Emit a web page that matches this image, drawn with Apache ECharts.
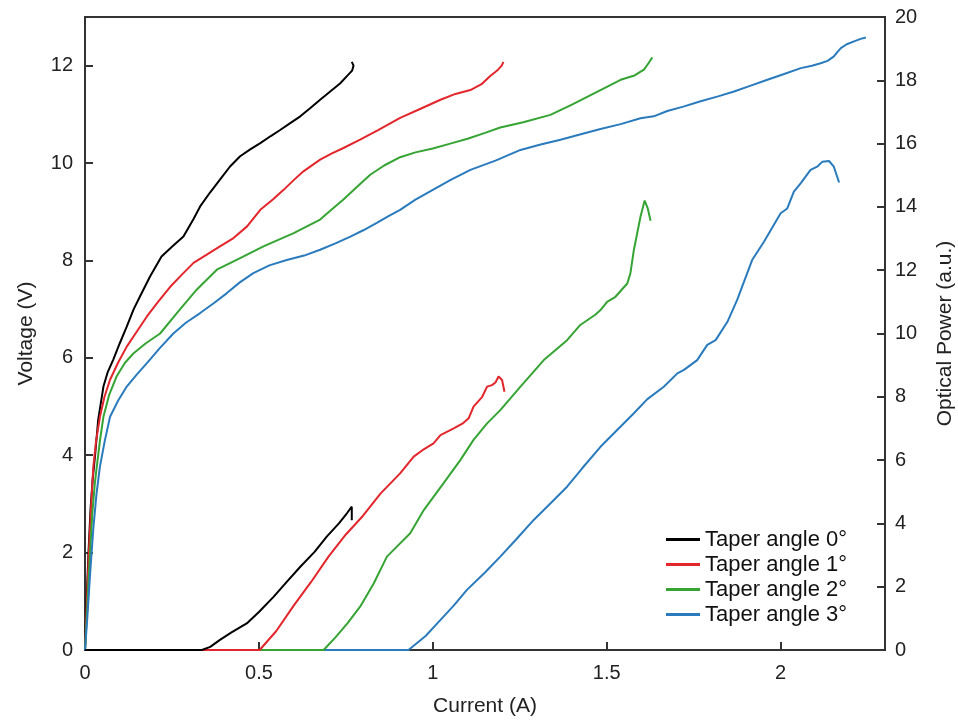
<!DOCTYPE html>
<html>
<head>
<meta charset="utf-8">
<script src="https://cdn.jsdelivr.net/npm/echarts@6/dist/echarts.min.js"></script>
<style>html,body{margin:0;padding:0;background:#fff}#c{width:958px;height:720px}</style>
</head>
<body>
<div id="c"></div>
<script>
var seriesNames = ['Taper angle 0°', 'Taper angle 1°', 'Taper angle 2°', 'Taper angle 3°'];
var colors = ['#000000', '#e2262b', '#35a433', '#2a7bbd'];
var xTicks = [0, 0.5, 1, 1.5, 2];

// Voltage (left axis)
var cur0V = [0,0.004,0.01,0.016,0.022,0.029,0.038,0.053,0.065,0.081,0.1,0.12,0.14,0.158,0.187,0.22,0.25,0.283,0.312,0.331,0.36,0.388,0.417,0.446,0.475,0.504,0.533,0.561,0.59,0.619,0.648,0.676,0.705,0.734,0.755,0.768,0.772,0.767];
var volt0 = [0,0.9,2.0,2.9,3.5,4.0,4.73,5.41,5.7,5.96,6.3,6.64,7.0,7.26,7.67,8.08,8.28,8.49,8.85,9.11,9.4,9.66,9.93,10.14,10.28,10.41,10.55,10.68,10.82,10.96,11.13,11.3,11.47,11.64,11.8,11.9,12.0,12.08];

var cur1V = [0,0.005,0.011,0.018,0.024,0.032,0.043,0.056,0.072,0.095,0.12,0.15,0.178,0.21,0.245,0.28,0.312,0.35,0.388,0.427,0.466,0.504,0.54,0.571,0.6,0.628,0.676,0.71,0.743,0.791,0.844,0.906,0.96,1.022,1.065,1.108,1.14,1.165,1.185,1.198,1.203];
var volt1 = [0,0.9,2.0,3.0,3.77,4.3,4.79,5.2,5.55,5.9,6.23,6.55,6.85,7.15,7.46,7.72,7.95,8.12,8.29,8.46,8.7,9.04,9.25,9.45,9.65,9.83,10.07,10.2,10.31,10.48,10.68,10.93,11.1,11.3,11.42,11.5,11.62,11.79,11.9,12.0,12.08];

var cur2V = [0,0.006,0.013,0.021,0.028,0.034,0.043,0.053,0.07,0.091,0.115,0.139,0.175,0.216,0.264,0.321,0.379,0.446,0.513,0.6,0.676,0.71,0.743,0.78,0.82,0.86,0.906,0.95,1.0,1.05,1.1,1.15,1.194,1.26,1.338,1.4,1.482,1.54,1.58,1.607,1.62,1.631];
var volt2 = [0,0.8,1.8,2.8,3.4,3.77,4.3,4.79,5.25,5.62,5.9,6.09,6.3,6.5,6.92,7.4,7.81,8.05,8.29,8.56,8.84,9.05,9.25,9.5,9.76,9.95,10.12,10.22,10.3,10.4,10.5,10.62,10.73,10.84,10.99,11.2,11.5,11.71,11.8,11.92,12.05,12.17];

var cur3V = [0,0.007,0.015,0.024,0.033,0.043,0.057,0.072,0.095,0.12,0.148,0.178,0.215,0.254,0.29,0.331,0.37,0.408,0.445,0.484,0.53,0.58,0.63,0.676,0.72,0.763,0.8,0.839,0.87,0.906,0.95,1.0,1.05,1.108,1.18,1.252,1.31,1.367,1.42,1.482,1.54,1.597,1.635,1.674,1.72,1.77,1.82,1.866,1.91,1.962,2.01,2.058,2.09,2.115,2.135,2.153,2.163,2.173,2.19,2.211,2.23,2.245];
var volt3 = [0,0.7,1.6,2.5,3.2,3.77,4.3,4.79,5.12,5.41,5.65,5.89,6.2,6.5,6.72,6.92,7.12,7.33,7.55,7.74,7.9,8.01,8.1,8.22,8.35,8.49,8.62,8.77,8.9,9.04,9.25,9.45,9.65,9.86,10.05,10.27,10.38,10.48,10.58,10.7,10.8,10.92,10.96,11.07,11.16,11.27,11.37,11.47,11.58,11.71,11.83,11.95,12.0,12.05,12.1,12.19,12.28,12.36,12.44,12.5,12.55,12.58];

// Optical power (right axis)
var cur0P = [0,0.336,0.36,0.388,0.42,0.465,0.5,0.542,0.58,0.619,0.66,0.695,0.73,0.753,0.767,0.767];
var pow0 = [0,0,0.1,0.32,0.55,0.84,1.2,1.68,2.15,2.63,3.1,3.58,4.0,4.32,4.53,4.1];

var cur1P = [0,0.502,0.55,0.6,0.65,0.7,0.75,0.8,0.85,0.906,0.945,0.975,1.002,1.022,1.06,1.085,1.103,1.117,1.142,1.156,1.17,1.18,1.189,1.199,1.206];
var pow1 = [0,0,0.6,1.4,2.15,2.95,3.65,4.25,4.95,5.58,6.11,6.35,6.53,6.79,7.0,7.15,7.32,7.69,8.0,8.32,8.37,8.45,8.64,8.53,8.16];

var cur2P = [0,0.686,0.72,0.755,0.791,0.83,0.868,0.935,0.974,1.031,1.079,1.117,1.156,1.194,1.252,1.319,1.386,1.424,1.468,1.482,1.501,1.525,1.559,1.568,1.578,1.597,1.609,1.618,1.626];
var pow2 = [0,0,0.4,0.85,1.37,2.1,2.95,3.69,4.42,5.27,6.0,6.64,7.16,7.58,8.32,9.16,9.79,10.27,10.6,10.74,11.0,11.16,11.58,11.9,12.64,13.69,14.2,13.95,13.56];

var cur3P = [0,0.93,0.98,1.022,1.06,1.098,1.15,1.194,1.24,1.29,1.34,1.386,1.43,1.482,1.53,1.578,1.616,1.664,1.703,1.722,1.76,1.789,1.813,1.847,1.875,1.918,1.952,2.0,2.019,2.038,2.058,2.086,2.105,2.12,2.139,2.153,2.168];
var pow3 = [0,0,0.45,0.95,1.4,1.9,2.45,2.95,3.5,4.11,4.65,5.16,5.75,6.42,6.95,7.48,7.92,8.32,8.74,8.85,9.16,9.64,9.79,10.37,11.06,12.32,12.9,13.8,13.95,14.48,14.75,15.17,15.27,15.43,15.45,15.27,14.77];

function zip(a, b) { return a.map(function (v, i) { return [v, b[i]]; }); }

var vPairs = [[cur0V, volt0], [cur1V, volt1], [cur2V, volt2], [cur3V, volt3]];
var pPairs = [[cur0P, pow0], [cur1P, pow1], [cur2P, pow2], [cur3P, pow3]];

var FONT = '"Liberation Sans", Arial, Helvetica, sans-serif';
var series = [];
for (var i = 0; i < 4; i++) {
  series.push({
    name: seriesNames[i], type: 'line', yAxisIndex: 0,
    data: zip(vPairs[i][0], vPairs[i][1]),
    showSymbol: false, symbol: 'none', clip: false,
    lineStyle: { color: colors[i], width: 2 }, itemStyle: { color: colors[i] },
    z: 2 + i
  });
}
for (var j = 0; j < 4; j++) {
  series.push({
    name: seriesNames[j], type: 'line', yAxisIndex: 1,
    data: zip(pPairs[j][0], pPairs[j][1]),
    showSymbol: false, symbol: 'none', clip: false,
    lineStyle: { color: colors[j], width: 2 }, itemStyle: { color: colors[j] },
    z: 9 - j
  });
}

var axisCommon = {
  axisLine: { show: true, lineStyle: { color: '#333', width: 2 } },
  axisTick: { show: true, inside: true, length: 8, lineStyle: { color: '#333', width: 2 } },
  splitLine: { show: false },
  nameTextStyle: { fontFamily: FONT, fontSize: 21, color: '#222' }
};

var chart = echarts.init(document.getElementById('c'), null, { renderer: 'canvas' });
chart.setOption({
  animation: false,
  backgroundColor: '#fff',
  textStyle: { fontFamily: FONT },
  grid: { left: 85, right: 73, top: 17, bottom: 70, show: true, borderColor: '#333', borderWidth: 2,
          backgroundColor: 'transparent', containLabel: false, outerBoundsMode: 'none' },
  legend: {
    data: seriesNames.map(function (n, k) { return { name: n, icon: 'rect', itemStyle: { color: colors[k] } }; }),
    orient: 'vertical', left: 666, top: 527, padding: 0,
    itemWidth: 34, itemHeight: 3, itemGap: 0,
    textStyle: { fontFamily: FONT, fontSize: 22, color: '#111', lineHeight: 25 }
  },
  xAxis: Object.assign({}, axisCommon, {
    type: 'value', min: 0, max: 2.3, interval: 0.5,
    name: 'Current (A)', nameLocation: 'middle', nameGap: 46,
    axisLabel: {
      fontFamily: FONT, fontSize: 20, color: '#222', margin: 13, showMaxLabel: false,
      formatter: function (v) { return xTicks.indexOf(v) >= 0 ? String(v) : ''; }
    }
  }),
  yAxis: [
    Object.assign({}, axisCommon, {
      type: 'value', position: 'left', min: 0, max: 13, interval: 2,
      name: 'Voltage (V)', nameLocation: 'middle', nameGap: 48, nameRotate: 90,
      axisLabel: { fontFamily: FONT, fontSize: 20, color: '#222', margin: 12, showMaxLabel: false }
    }),
    Object.assign({}, axisCommon, {
      type: 'value', position: 'right', min: 0, max: 20, interval: 2,
      name: 'Optical Power (a.u.)', nameLocation: 'middle', nameGap: 50, nameRotate: 90,
      axisLabel: { fontFamily: FONT, fontSize: 20, color: '#222', margin: 10 }
    })
  ],
  series: series
});
</script>
</body>
</html>
